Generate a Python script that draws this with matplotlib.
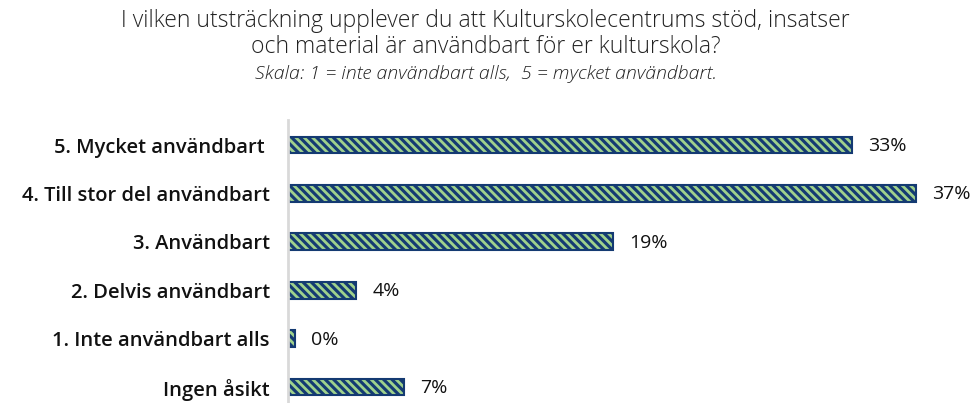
import matplotlib
matplotlib.use("Agg")
import matplotlib.pyplot as plt

categories = ["5. Mycket användbart ", "4. Till stor del användbart", "3. Användbart",
              "2. Delvis användbart", "1. Inte användbart alls", "Ingen åsikt"]
values = [33.0, 36.7, 19.0, 4.0, 0.4, 6.8]
labels = ["33%", "37%", "19%", "4%", "0%", "7%"]

title_line1 = "I vilken utsträckning upplever du att Kulturskolecentrums stöd, insatser"
title_line2 = "och material är användbart för er kulturskola?"
subtitle = "Skala: 1 = inte användbart alls,  5 = mycket användbart."

navy = "#143a72"
green = "#9fd18c"

plt.rcParams['hatch.linewidth'] = 2.0
plt.rcParams['font.family'] = ['Open Sans', 'DejaVu Sans']

fig = plt.figure(figsize=(9.71, 4.03), dpi=100)
ax = fig.add_axes([288/971, 0, 1 - 288/971, 1 - 120/403])

ypos = list(range(len(categories)))
ax.barh(ypos, values, height=0.35, color=navy, edgecolor=green, hatch='\\\\\\\\', linewidth=0)
ax.barh(ypos, values, height=0.35, color='none', edgecolor=navy, linewidth=1.5)

for y, v, lab in zip(ypos, values, labels):
    ax.text(v + 0.95, y + 0.02, lab, va='center', ha='left', fontsize=14, fontweight='medium', color='#111111')

ax.set_xlim(0, 683/17.1)
ax.set_ylim(5.33, -0.517)
ax.set_yticks(ypos)
ax.set_yticklabels(categories, fontsize=14.5, fontweight='semibold', color='#111111')
ax.tick_params(axis='y', length=0, pad=13)
ax.set_xticks([])
for s in ['top', 'right', 'bottom']:
    ax.spines[s].set_visible(False)
ax.spines['left'].set_color('#d9d9d9')
ax.spines['left'].set_linewidth(2)

fig.text(0.5, 1 - 21/403, title_line1, ha='center', va='center', fontsize=16.5, fontweight='light',
         color='#222222')
fig.text(0.5, 1 - 47/403, title_line2, ha='center', va='center', fontsize=16.5, fontweight='light',
         color='#222222')
fig.text(0.5, 1 - 74/403, subtitle, ha='center', va='center', fontsize=14, fontstyle='italic',
         fontweight='light', color='#222222')

fig.savefig("out.png", dpi=100)
